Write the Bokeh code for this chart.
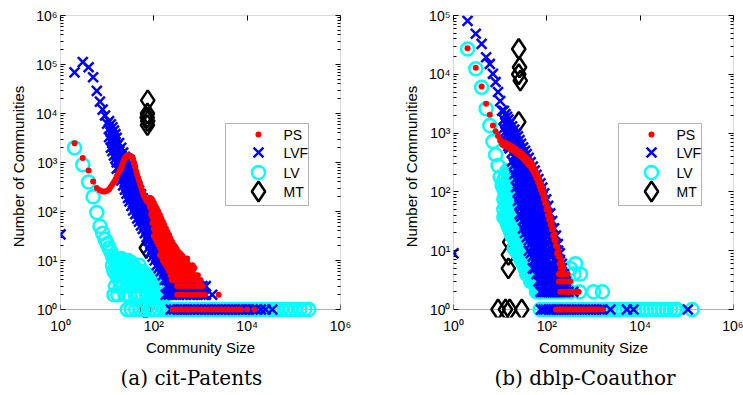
from bokeh.plotting import figure
from bokeh.models import (Range1d, LogAxis, FixedTicker, CustomJSTickFormatter,
                          BoxAnnotation, Title, ColumnDataSource)
from bokeh.layouts import row
from bokeh.embed import file_html
from bokeh.resources import INLINE
from bokeh.core.properties import value

# ---------------------------------------------------------------------------
# Community size distributions: (community size, number of communities)
# ---------------------------------------------------------------------------

# ----- cit-Patents -----
cit_ps_curve = [(2, 2470), (3, 1230), (4, 690), (5, 410), (6, 300), (7, 270), (8, 255),
                (9, 255), (10, 265), (11, 285), (12, 320), (13, 360), (14, 400), (15, 450),
                (16, 520), (17, 590), (18, 650), (19, 700), (20, 780), (21, 880), (22, 1000),
                (23, 1120), (24, 1230), (25, 1300), (26, 1350), (27, 1380), (28, 1390),
                (29, 1390), (30, 1380), (31, 1360), (32, 1340), (33, 1310), (34, 1290),
                (35, 1260), (36, 1150), (37, 1050), (38, 950), (39, 870), (40, 800), (42, 660),
                (44, 560), (46, 480), (48, 430), (50, 380), (52, 340), (54, 300), (56, 270),
                (58, 240), (60, 220), (63, 200), (66, 185), (69, 170), (72, 160)]
cit_ps_tail = [(76, [175, 150]), (82, [190, 155, 125]), (88, [185, 145, 112, 88]),
               (94, [170, 130, 100, 75, 58]), (100, [150, 115, 86, 62, 44, 32]),
               (108, [130, 100, 75, 54, 38, 28]), (116, [115, 88, 65, 46, 33, 24]),
               (125, [100, 76, 56, 40, 29, 21]), (135, [85, 65, 48, 35, 25, 18, 13]),
               (145, [72, 55, 41, 30, 22, 16, 12]), (156, [62, 47, 35, 26, 19, 14, 10]),
               (168, [53, 40, 30, 22, 16, 12, 9]), (182, [45, 34, 26, 19, 14, 10, 8]),
               (196, [38, 29, 22, 16, 12, 9, 7]), (212, [33, 25, 19, 14, 10, 8, 6]),
               (228, [28, 21, 16, 12, 9, 7, 5]), (246, [24, 18, 14, 11, 8, 6, 5]),
               (266, [21, 16, 12, 9, 7, 6]), (288, [19, 14, 11, 8, 6, 5]),
               (310, [17, 13, 10, 8, 6]), (335, [15, 12, 9, 7, 5]), (362, [14, 11, 8, 6, 5]),
               (390, [13, 10, 8, 6]), (420, [12, 9, 7, 5]), (455, [11, 8, 6, 5]),
               (490, [10, 8, 6]), (520, [11, 9, 7, 5]), (575, [8, 6]), (620, [7, 5]),
               (680, [8, 6, 5]), (740, [7, 5]), (800, [5]), (880, [5])]
cit_ps_four = [240, 280, 330, 390, 460, 540, 640, 760, 900, 1000]
cit_ps_three = [316, 360, 420, 490, 570, 660, 770, 900, 1000, 1120]
cit_ps_two = [316, 360, 420, 490, 570, 660, 770, 900, 1050, 1250, 2450]
cit_ps_one = [250, 290, 340, 400, 470, 550, 640, 760, 900, 1060, 1250, 1480, 1750, 2060,
              2420, 2850, 3400, 4000, 4700, 5700, 6500, 7400, 10000, 14200]

cit_lvf_head = [(1, 34), (2, 69000), (3, 112000), (4, 88000), (5, 55000), (6, 29000),
                (7, 17500), (8, 12000), (9, 9100), (10, 6200)]
cit_lvf_band = [(11, [7000, 4800, 3300]), (12, [6000, 4200, 2900, 2000]),
                (13, [5200, 3600, 2500, 1700]), (14, [4500, 3100, 2100, 1400]),
                (15, [3800, 2600, 1800, 1200]), (16, [3200, 2200, 1500, 1000, 750]),
                (18, [2500, 1700, 1150, 780, 560]), (20, [2000, 1350, 900, 610, 430]),
                (22, [1600, 1050, 700, 480, 340]), (24, [1300, 860, 580, 390, 280]),
                (26, [1050, 700, 470, 320, 230]), (28, [880, 590, 400, 270, 190]),
                (30, [750, 500, 340, 230, 160]), (33, [600, 400, 270, 185, 130]),
                (36, [490, 330, 220, 150, 105]), (40, [400, 270, 180, 125, 88]),
                (44, [330, 220, 150, 105, 72]), (48, [270, 185, 125, 88, 62]),
                (53, [225, 155, 105, 74, 52]), (58, [185, 128, 88, 62, 44]),
                (64, [150, 105, 72, 51, 36]), (70, [122, 86, 60, 42, 30]),
                (77, [100, 70, 49, 35, 25, 18]), (85, [80, 57, 40, 29, 21, 15]),
                (94, [64, 46, 33, 24, 17, 12]), (104, [52, 37, 27, 20, 14, 10]),
                (115, [42, 30, 22, 16, 12, 8]), (127, [34, 25, 18, 13, 10, 7]),
                (140, [28, 20, 15, 11, 8, 6]), (155, [23, 17, 12, 9, 7, 5]),
                (170, [18, 14, 10, 8, 6, 4]), (190, [15, 11, 8, 6, 5, 4, 3]),
                (210, [12, 9, 7, 5, 4, 3]), (230, [10, 8, 6, 5, 4, 3]),
                (255, [8, 6, 5, 4, 3]), (280, [7, 5, 4, 3]), (310, [6, 5, 4, 3]),
                (350, [5, 4, 3]), (400, [4, 3]), (450, [4, 3]), (520, [4, 3]),
                (600, [4, 3]), (700, [4, 3]), (820, [3]), (950, [3]), (1100, [3]),
                (1300, [3])]
cit_lvf_two = [180, 210, 250, 300, 350, 420, 500, 600, 700, 850, 1000, 1150, 1300, 1780]
cit_lvf_one = [230, 270, 320, 380, 450, 530, 620, 740, 880, 1040, 1230, 1460, 1720, 2040,
               2420, 2860, 3390, 4010, 4750, 5620, 6650, 7880, 9330, 11050, 13100, 15500,
               19600, 24700, 34500]

cit_lv_head = [(2, 2000), (3, 900), (4, 400), (5, 200), (6, 95), (7, 50), (8, 36), (9, 27),
               (10, 22), (11, 18), (12, 15)]
cit_lv_cloud = [(13, [12, 8]), (14, [11, 6, 2]), (15, [10, 7, 3]), (16, [9, 5]),
                (17, [10, 6, 2]), (18, [8, 4]), (19, [9, 5, 3]), (20, [11, 7]),
                (22, [10, 6, 3]), (24, [9, 5, 2]), (26, [8, 4]), (28, [10, 6, 3]),
                (30, [7, 5, 2]), (33, [9, 4]), (36, [8, 6, 3]), (40, [7, 5, 2]), (44, [6, 4]),
                (48, [8, 3, 2]), (53, [5, 4]), (58, [6, 3, 2]), (64, [5, 4]), (70, [4, 3, 2]),
                (77, [5, 2]), (85, [4, 3]), (94, [3, 2]), (104, [4, 2]), (115, [3, 2]),
                (127, [2, 3]), (140, [2]), (160, [3, 2]), (180, [2])]
cit_lv_one = [27, 33, 41, 52, 66, 83, 104, 131, 168, 210, 265, 338, 420, 531, 672, 845,
              1062, 1347, 1690, 2133, 2690, 3410, 4287, 5402, 6788, 8534, 10712, 13489,
              17021, 21466, 26930, 33877, 42712, 54129, 67902, 85310, 107452, 134890,
              171036, 208145]

cit_mt = [(74, 18500), (73, 10000), (72, 8300), (74, 7000), (73, 5800), (69, 18), (66, 1)]

# ----- dblp-Coauthor -----
dblp_ps_head = [(2, 27700), (3, 12900), (4, 6200), (5, 3160), (6, 2050), (7, 1350),
                (8, 1070), (9, 890), (10, 750)]
dblp_ps_band = [(11, [720, 640]), (12, [700, 620]), (13, [680, 600]), (14, [660, 590]),
                (15, [640, 570]), (16, [620, 550]), (17, [600, 530]), (18, [590, 520]),
                (20, [560, 490]), (22, [530, 460]), (24, [500, 440]), (26, [480, 420]),
                (28, [460, 400]), (30, [440, 380]), (33, [410, 350]), (36, [385, 325]),
                (39, [360, 300]), (42, [340, 285]), (45, [320, 270]), (48, [295, 245]),
                (52, [265, 220]), (56, [235, 195]), (60, [210, 170]), (65, [180, 145]),
                (70, [155, 125]), (75, [135, 108]), (80, [118, 92]), (86, [98, 76]),
                (92, [80, 63]), (98, [64, 50]), (105, [53, 41]), (112, [45, 34]),
                (120, [37, 28]), (128, [30, 23]), (137, [24, 18]), (146, [19, 15]),
                (156, [15, 12]), (166, [12, 9]), (177, [10, 8]), (188, [8, 6]),
                (200, [7, 5]), (212, [6, 5]), (225, [5])]
dblp_ps_four = [180, 200, 225, 250, 280]
dblp_ps_three = [180, 200, 225, 250, 280, 316]
dblp_ps_two = [195, 215, 240, 270, 300, 340, 390, 440, 480]
dblp_ps_one = [158, 175, 195, 215, 240, 265, 295, 330, 370, 410, 460, 520, 580, 650, 730,
               820, 920, 1030, 1150, 1300, 1600]

dblp_lvf_head = [(1, 9), (2, 81000), (3, 49000), (4, 33000), (5, 19500), (6, 15000),
                 (7, 10200), (8, 7400), (9, 5000), (10, 3500), (11, 2400)]
dblp_lvf_band = [(12, [2400, 1700, 1200]), (13, [2100, 1500, 1050, 750]),
                 (14, [1900, 1350, 950, 680]), (15, [1700, 1200, 850, 600]),
                 (16, [1500, 1080, 770, 550]), (18, [1300, 930, 660, 470, 330]),
                 (20, [1150, 820, 580, 410, 290, 200]),
                 (22, [1000, 720, 510, 360, 250, 170, 120]),
                 (24, [880, 620, 440, 310, 220, 150, 100, 70]),
                 (26, [760, 540, 380, 270, 190, 130, 90, 60, 42]),
                 (28, [660, 470, 330, 230, 160, 110, 78, 55, 38]),
                 (31, [570, 400, 280, 200, 140, 97, 68, 48, 33, 24]),
                 (34, [500, 350, 245, 170, 120, 84, 59, 41, 29, 20]),
                 (37, [440, 310, 215, 150, 105, 74, 52, 36, 25, 17]),
                 (41, [380, 265, 185, 130, 91, 64, 45, 31, 22, 15, 10]),
                 (45, [320, 225, 160, 112, 78, 55, 38, 27, 19, 13, 9]),
                 (50, [270, 190, 135, 95, 66, 46, 32, 23, 16, 11, 8, 5]),
                 (55, [230, 160, 115, 80, 56, 39, 28, 19, 14, 10, 7, 5]),
                 (60, [195, 138, 97, 68, 48, 34, 24, 17, 12, 8, 6, 4]),
                 (66, [165, 115, 82, 58, 40, 28, 20, 14, 10, 7, 5, 3]),
                 (73, [140, 98, 69, 49, 34, 24, 17, 12, 8, 6, 4, 3, 2]),
                 (80, [118, 83, 58, 41, 29, 20, 14, 10, 7, 5, 4, 3, 2]),
                 (88, [95, 67, 47, 33, 23, 16, 11, 8, 6, 4, 3, 2]),
                 (97, [75, 53, 37, 26, 18, 13, 9, 7, 5, 4, 3, 2]),
                 (107, [58, 41, 29, 20, 14, 10, 7, 5, 4, 3, 2]),
                 (118, [43, 30, 21, 15, 11, 8, 6, 4, 3, 2]),
                 (130, [32, 23, 16, 12, 9, 6, 5, 4, 3, 2]),
                 (143, [24, 17, 12, 9, 7, 5, 4, 3, 2]), (157, [18, 13, 10, 7, 5, 4, 3, 2]),
                 (173, [13, 10, 7, 5, 4, 3, 2]), (190, [9, 7, 5, 4, 3, 2]),
                 (210, [6, 5, 4, 3, 2]), (230, [4, 3, 2]), (255, [3, 2]), (290, [2]),
                 (370, [2])]
dblp_lvf_one = [75, 85, 95, 110, 125, 140, 160, 180, 205, 230, 260, 300, 340, 390, 440,
                500, 570, 650, 750, 860, 1000, 1150, 1350, 1550, 2300, 5200, 7200, 105000]

dblp_lv_head = [(2, 27000), (3, 12400), (4, 6000), (5, 2600), (6, 1350), (7, 720),
                (8, 430), (9, 280), (10, 180), (11, 130)]
dblp_lv_band = [(12, [160, 110, 75, 50, 37]), (13, [190, 130, 90, 60, 40]),
                (14, [230, 150, 100, 68, 45, 30]), (15, [200, 135, 90, 60, 40, 26]),
                (16, [175, 118, 80, 54, 36, 23]), (17, [155, 104, 70, 47, 32, 20]),
                (18, [140, 94, 63, 42, 28, 18]), (20, [120, 80, 54, 36, 24, 16, 11]),
                (22, [100, 68, 46, 31, 21, 14, 10]), (24, [85, 57, 38, 26, 17, 12, 9]),
                (26, [72, 48, 32, 22, 15, 10, 8]), (28, [62, 42, 28, 19, 13, 9, 7]),
                (31, [52, 35, 24, 16, 11, 8, 6]), (34, [45, 30, 20, 14, 10, 7, 5]),
                (37, [40, 27, 18, 12, 9, 6, 4]), (41, [34, 23, 16, 11, 8, 6, 4]),
                (45, [28, 19, 13, 9, 7, 5, 3]), (50, [22, 15, 10, 7, 5, 4, 3]),
                (55, [18, 12, 8, 6, 4, 3]), (60, [15, 10, 7, 5, 4, 3, 2]),
                (66, [12, 8, 6, 4, 3, 2]), (73, [10, 7, 5, 3, 2]), (80, [8, 5, 4, 3, 2]),
                (90, [6, 4, 3, 2]), (100, [5, 3, 2]), (115, [4, 3, 2]), (130, [3, 2]),
                (150, [4, 2]), (180, [3, 2]), (220, [2]), (260, [3]), (320, [5, 2]),
                (380, [4]), (410, [6]), (500, [2]), (525, [4]), (1000, [2]), (1550, [2])]
dblp_lv_one = [72, 88, 105, 128, 155, 190, 230, 280, 340, 410, 500, 610, 740, 900, 1090,
               1330, 1610, 1960, 2380, 2900, 3520, 4280, 5200, 6330, 7700, 9350, 11400,
               13800, 16800, 20400, 24800, 30200, 36700, 44600, 54200, 62000, 130000]

dblp_mt = [(25, 27000), (26, 13200), (25, 10000), (27, 7800), (25, 1550), (26, 390),
           (22, 230), (20, 178), (19, 138), (17, 80), (16, 51), (15, 30), (16, 14),
           (15, 8.5), (15, 5), (9, 1), (13, 1), (16, 1), (29, 1)]

method_names = ["PS", "LVF", "LV", "MT"]
captions = ["(a) cit-Patents", "(b) dblp-Coauthor"]


def gather(pairs=(), bands=(), rows=()):
    """Flatten typed pairs, (size, [counts]) bands and (count, [sizes]) rows."""
    xs, ys = [], []
    for s, c in pairs:
        xs.append(s)
        ys.append(c)
    for s, counts in bands:
        for c in counts:
            xs.append(s)
            ys.append(c)
    for c, sizes in rows:
        for s in sizes:
            xs.append(s)
            ys.append(c)
    return ColumnDataSource(dict(x=xs, y=ys))


FRAME_W, FRAME_H = 280, 294      # pixel size of the boxed axes area
BELOW = 8                        # extra room under the box so y=1 markers are not cut
X_DECADES = 6
FONT = "Liberation Sans"

SUP_CODE = """
const sup = {"0": "\u2070", "1": "\u00b9", "2": "\u00b2", "3": "\u00b3", "4": "\u2074",
             "5": "\u2075", "6": "\u2076", "-": "\u207b"};
const e = Math.round(Math.log10(tick));
return "10" + String(e).split("").map(c => sup[c]).join("");
"""


def style_axis(ax, ticks, minor, labelled, tick_in=5):
    ax.ticker = FixedTicker(ticks=ticks, minor_ticks=minor)
    ax.major_tick_in = tick_in
    ax.major_tick_out = 0
    ax.minor_tick_in = 3
    ax.minor_tick_out = 0
    ax.axis_line_color = None
    ax.major_tick_line_color = "black"
    ax.minor_tick_line_color = "black"
    if labelled:
        ax.formatter = CustomJSTickFormatter(code=SUP_CODE)
        ax.major_label_text_font = FONT
        ax.major_label_text_font_size = "14px"
        ax.major_label_text_color = "black"
        ax.axis_label_text_font = FONT
        ax.axis_label_text_font_size = "15px"
        ax.axis_label_text_font_style = "normal"
        ax.axis_label_text_color = "black"
    else:
        ax.formatter = CustomJSTickFormatter(code="return '';")
        ax.major_label_text_font_size = "0px"
        ax.major_label_standoff = 0


def make_panel(series, y_decades, caption, width, border_left, border_right, caption_left):
    ppd = FRAME_H / y_decades          # pixels per decade on the y axis
    y_top = 10 ** y_decades
    p = figure(width=width, height=395, x_axis_type="log", y_axis_type="log",
               x_range=Range1d(1, 10 ** X_DECADES),
               y_range=Range1d(10 ** (-BELOW / ppd), y_top),
               min_border_left=border_left, min_border_right=border_right,
               min_border_top=15, min_border_bottom=86 - BELOW,
               output_backend="svg", toolbar_location=None)
    p.xgrid.visible = False
    p.ygrid.visible = False
    p.outline_line_color = None
    p.background_fill_color = "white"
    p.border_fill_color = "white"

    xticks = [10 ** k for k in range(0, X_DECADES + 1, 2)]
    yticks = [10 ** k for k in range(0, y_decades + 1)]
    yminor = [m * 10 ** k for k in range(0, y_decades) for m in range(2, 10)]

    style_axis(p.xaxis[0], xticks, [], True, tick_in=0)
    style_axis(p.yaxis[0], yticks, yminor, True)
    p.xaxis[0].axis_label = "Community Size"
    p.yaxis[0].axis_label = "Number of Communities"
    p.xaxis[0].major_label_standoff = 0
    p.xaxis[0].axis_label_standoff = 2
    p.yaxis[0].major_label_standoff = 3
    p.yaxis[0].axis_label_standoff = 6

    top = LogAxis()
    style_axis(top, xticks, [], False)
    p.add_layout(top, "above")
    right = LogAxis()
    style_axis(right, yticks, yminor, False)
    p.add_layout(right, "right")

    # axes box drawn under the data, bottom edge at one community
    p.add_layout(BoxAnnotation(left=1, right=10 ** X_DECADES, bottom=1, top=y_top,
                               fill_color=None, fill_alpha=0, line_color="black",
                               line_width=1, level="underlay"))
    p.segment(x0=xticks, y0=[1] * len(xticks), x1=xticks,
              y1=[10 ** (5 / ppd)] * len(xticks), line_color="black", line_width=1,
              level="underlay")

    ps, lvf, lv, mt = series
    p.scatter("x", "y", source=mt, marker="diamond", size=20, fill_color=None,
              line_color="black", line_width=2.5)
    p.scatter("x", "y", source=lv, marker="circle", size=13, fill_color=None,
              line_color="#00FFFF", line_width=2.5)
    p.scatter("x", "y", source=lvf, marker="x", size=14, line_color="#0000FF",
              line_width=2.5)
    p.scatter("x", "y", source=ps, marker="circle", size=6, fill_color="#FF0000",
              line_color=None)

    # legend, laid out in pixels from the box's top-left corner
    def to_x(fx):
        return 10 ** (fx / FRAME_W * X_DECADES)

    def to_y(fy):
        return 10 ** ((FRAME_H - fy) / ppd)

    p.add_layout(BoxAnnotation(left=to_x(165), right=to_x(248), top=to_y(108),
                               bottom=to_y(190), fill_color="white", fill_alpha=1.0,
                               line_color="black", line_width=1))
    rows_fy = [119, 137, 157, 176]
    mx, tx = to_x(198), to_x(223)
    p.scatter([mx], [to_y(rows_fy[0])], marker="circle", size=6, fill_color="#FF0000",
              line_color=None, level="overlay")
    p.scatter([mx], [to_y(rows_fy[1])], marker="x", size=14, line_color="#0000FF",
              line_width=2.5, level="overlay")
    p.scatter([mx], [to_y(rows_fy[2])], marker="circle", size=13, fill_color=None,
              line_color="#00FFFF", line_width=2.5, level="overlay")
    p.scatter([mx], [to_y(rows_fy[3])], marker="diamond", size=20, fill_color=None,
              line_color="black", line_width=2.5, level="overlay")
    p.text(x=[tx] * 4, y=[to_y(fy) for fy in rows_fy], text=method_names,
           text_font=value(FONT), text_font_size="14px", text_color="black",
           text_align="left", text_baseline="middle", level="overlay")

    p.add_layout(Title(text=caption, align="left", text_font="DejaVu Serif",
                       text_font_size="20px", text_font_style="normal",
                       text_color="black", offset=caption_left, standoff=10), "below")
    return p


cit_series = (
    gather(pairs=cit_ps_curve, bands=cit_ps_tail,
           rows=[(4, cit_ps_four), (3, cit_ps_three), (2, cit_ps_two), (1, cit_ps_one)]),
    gather(pairs=cit_lvf_head, bands=cit_lvf_band, rows=[(2, cit_lvf_two), (1, cit_lvf_one)]),
    gather(pairs=cit_lv_head, bands=cit_lv_cloud, rows=[(1, cit_lv_one)]),
    gather(pairs=cit_mt),
)
dblp_series = (
    gather(pairs=dblp_ps_head, bands=dblp_ps_band,
           rows=[(4, dblp_ps_four), (3, dblp_ps_three), (2, dblp_ps_two), (1, dblp_ps_one)]),
    gather(pairs=dblp_lvf_head, bands=dblp_lvf_band, rows=[(1, dblp_lvf_one)]),
    gather(pairs=dblp_lv_head, bands=dblp_lv_band, rows=[(1, dblp_lv_one)]),
    gather(pairs=dblp_mt),
)

p1 = make_panel(cit_series, 6, captions[0], 370, 60, 30, 60)
p2 = make_panel(dblp_series, 5, captions[1], 373, 83, 10, 41)

layout = row(p1, p2)
open("out.html", "w").write(file_html(layout, INLINE))
